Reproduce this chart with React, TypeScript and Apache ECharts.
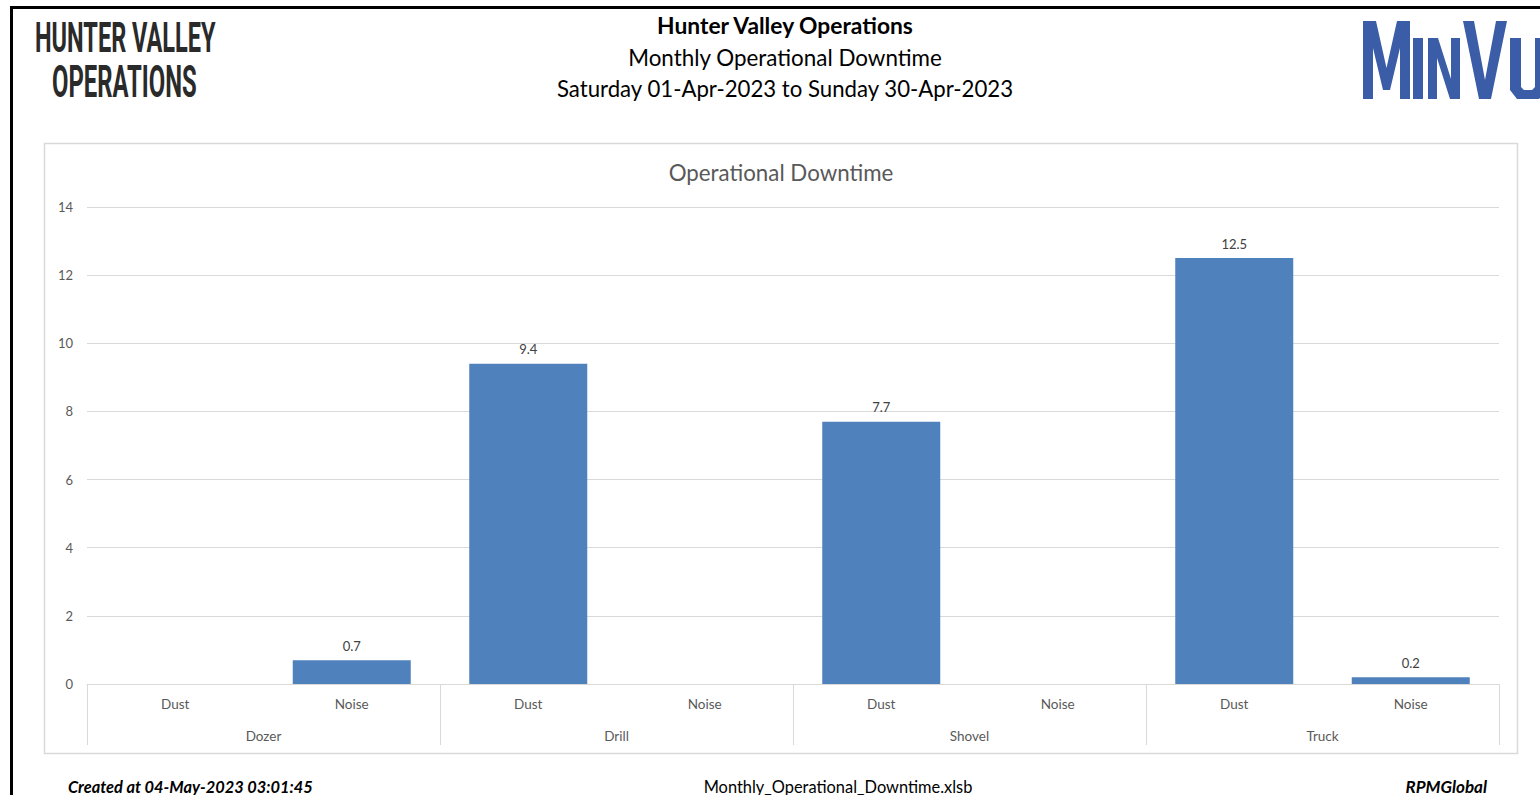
import React, { useEffect, useRef } from 'react';
import * as echarts from 'echarts';

const groups = ['Dozer', 'Drill', 'Shovel', 'Truck'];
const categories = ['Dust', 'Noise', 'Dust', 'Noise', 'Dust', 'Noise', 'Dust', 'Noise'];
const downtime: (number | null)[] = [null, 0.7, 9.4, null, 7.7, null, 12.5, 0.2];
const yMin = 0;
const yMax = 14;
const yStep = 2;

const headerTitle = 'Hunter Valley Operations';
const headerSub = 'Monthly Operational Downtime';
const headerRange = 'Saturday 01-Apr-2023 to Sunday 30-Apr-2023';
const chartTitle = 'Operational Downtime';
const footerLeft = 'Created at 04-May-2023 03:01:45';
const footerMid = 'Monthly_Operational_Downtime.xlsb';
const footerRight = 'RPMGlobal';

const FONT = 'Lato, "Open Sans", sans-serif';
const LOGO_BLUE = '#3b5ca7';

export default function App() {
  const ref = useRef<HTMLDivElement>(null);
  useEffect(() => {
    if (!ref.current) return;
    const chart = echarts.init(ref.current, undefined, { renderer: 'svg' });
    const option: any = {
      animation: false,
      backgroundColor: '#ffffff',
      textStyle: { fontFamily: FONT },
      grid: { left: 87, right: 41, top: 207, bottom: 111, containLabel: false },
      xAxis: [
        {
          type: 'category',
          data: categories,
          position: 'bottom',
          axisLine: { show: true, lineStyle: { color: '#d9d9d9', width: 1 } },
          axisTick: { show: false },
          axisLabel: { color: '#595959', fontSize: 13.5, margin: 13, fontFamily: FONT },
        },
        {
          type: 'category',
          data: groups,
          position: 'bottom',
          axisLine: { show: false },
          axisTick: { show: true, length: 61, lineStyle: { color: '#d9d9d9', width: 1 } },
          axisLabel: { color: '#595959', fontSize: 13.5, margin: 45, fontFamily: FONT },
        },
      ],
      yAxis: {
        type: 'value',
        min: yMin,
        max: yMax,
        interval: yStep,
        axisLine: { show: false },
        axisTick: { show: false },
        axisLabel: { color: '#595959', fontSize: 13, margin: 14, fontFamily: FONT },
        splitLine: { lineStyle: { color: '#d9d9d9', width: 1 } },
      },
      series: [
        {
          type: 'bar',
          xAxisIndex: 0,
          data: downtime,
          barWidth: 118,
          itemStyle: { color: '#4f81bd' },
          label: {
            show: true,
            position: 'top',
            distance: 8,
            color: '#404040',
            fontSize: 13,
            fontFamily: FONT,
            formatter: (p: any) => (p.value == null ? '' : Number(p.value).toFixed(1)),
          },
        },
      ],
      graphic: [
        // page border
        { type: 'line', shape: { x1: 11, y1: 7.5, x2: 1540, y2: 7.5 }, style: { stroke: '#000', lineWidth: 3 } },
        { type: 'line', shape: { x1: 11.5, y1: 6, x2: 11.5, y2: 795 }, style: { stroke: '#000', lineWidth: 3 } },
        // chart box
        { type: 'rect', shape: { x: 44.5, y: 143.5, width: 1473, height: 610 }, style: { fill: 'none', stroke: '#d9d9d9', lineWidth: 1.5 }, z: -1 },
        // header
        { type: 'text', x: 785, y: 25, style: { text: headerTitle, font: `bold 22.8px ${FONT}`, fill: '#000', textAlign: 'center', textVerticalAlign: 'middle' } },
        { type: 'text', x: 785, y: 57, style: { text: headerSub, font: `22.4px ${FONT}`, fill: '#000', textAlign: 'center', textVerticalAlign: 'middle' } },
        { type: 'text', x: 785, y: 88, style: { text: headerRange, font: `22.2px ${FONT}`, fill: '#000', textAlign: 'center', textVerticalAlign: 'middle' } },
        // left logo
        { type: 'text', x: 35, y: 37.6, scaleX: 0.56, style: { text: 'HUNTER VALLEY', font: 'bold 42px Roboto', fill: '#2a2a2a', textAlign: 'left', textVerticalAlign: 'middle' } },
        { type: 'text', x: 52, y: 81.6, scaleX: 0.53, style: { text: 'OPERATIONS', font: 'bold 45px Roboto', fill: '#2a2a2a', textAlign: 'left', textVerticalAlign: 'middle' } },
        // MinVu logo (block letters)
        { type: 'polygon', shape: { points: [[1363, 99], [1363, 21], [1376, 21], [1386.5, 68], [1397, 21], [1410, 21], [1410, 99], [1400, 99], [1400, 48], [1390, 90], [1383, 90], [1373, 48], [1373, 99]] }, style: { fill: LOGO_BLUE } },
        { type: 'rect', shape: { x: 1413, y: 38, width: 10, height: 61 }, style: { fill: LOGO_BLUE } },
        { type: 'polygon', shape: { points: [[1428, 99], [1428, 38], [1438, 38], [1451, 79], [1451, 38], [1460, 38], [1460, 99], [1450, 99], [1437, 58], [1437, 99]] }, style: { fill: LOGO_BLUE } },
        { type: 'polygon', shape: { points: [[1463, 21], [1474, 21], [1485, 80], [1496, 21], [1507, 21], [1491, 99], [1479, 99]] }, style: { fill: LOGO_BLUE } },
        { type: 'polygon', shape: { points: [[1510, 38], [1521, 38], [1521, 87], [1524, 90], [1532, 90], [1535, 87], [1535, 38], [1546, 38], [1546, 90], [1539, 99], [1517, 99], [1510, 90]] }, style: { fill: LOGO_BLUE } },
        // chart title
        { type: 'text', x: 781, y: 172, style: { text: chartTitle, font: `22.3px ${FONT}`, fill: '#595959', textAlign: 'center', textVerticalAlign: 'middle' } },
        // footer
        { type: 'text', x: 68, y: 786, style: { text: footerLeft, font: `italic bold 16.4px ${FONT}`, fill: '#000', textAlign: 'left', textVerticalAlign: 'middle' } },
        { type: 'text', x: 838, y: 786, style: { text: footerMid, font: `16.4px ${FONT}`, fill: '#000', textAlign: 'center', textVerticalAlign: 'middle' } },
        { type: 'text', x: 1487, y: 786, style: { text: footerRight, font: `italic bold 17px ${FONT}`, fill: '#000', textAlign: 'right', textVerticalAlign: 'middle' } },
      ],
    };
    chart.setOption(option);
    return () => chart.dispose();
  }, []);
  return (
    <div
      ref={ref}
      style={{ position: 'absolute', left: 0, top: 0, width: 1540, height: 795, background: '#fff' }}
    />
  );
}
